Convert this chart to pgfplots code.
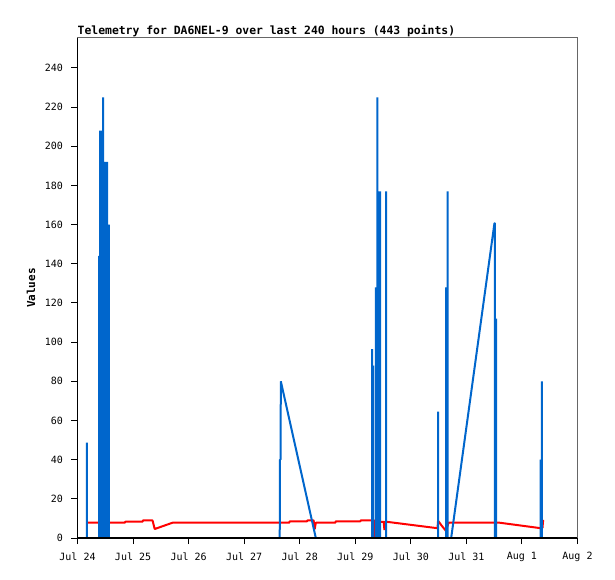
\documentclass[border=0pt]{standalone}
\usepackage{pgfplots}
\pgfplotsset{compat=1.18}
\usepackage{fontspec}
\setmainfont{DejaVu Sans Mono}
\definecolor{bl}{HTML}{0066CC}
\definecolor{rd}{HTML}{FF0000}
\definecolor{fr}{HTML}{666666}
\begin{document}
\begin{tikzpicture}[x=1pt,y=1pt]
\path[use as bounding box] (-77.5,-41) rectangle (537.5,538);
\begin{axis}[at={(0,0)}, anchor=south west, scale only axis, width=500pt, height=500pt,
  xmin=0,xmax=9,ymin=0,ymax=255.3, axis lines=box,
  axis line style={draw=fr, line width=1pt}, xtick=\empty, ytick=\empty]
\end{axis}
\begin{axis}[at={(0,0)}, anchor=south west, scale only axis, width=500pt, height=500pt,
  xmin=0, xmax=9, ymin=0, ymax=255.3,
  axis x line*=bottom, axis y line*=left,
  x axis line style={black, line width=2.5pt},
  y axis line style={black, line width=1pt},
  axis on top,
  tick align=outside, major tick length=6pt,
  every tick/.style={black, line width=1pt},
  xtick={0,1,...,9},
  xticklabels={Jul 24,Jul 25,Jul 26,Jul 27,Jul 28,Jul 29,Jul 30,Jul 31,Aug 1,Aug 2},
  ytick={0,20,...,240},
  tick label style={font=\fontsize{10}{12}\selectfont},
  xticklabel style={yshift=-5pt},
  yticklabel style={xshift=-5pt},
  /pgf/number format/assume math mode=true,
  title={Telemetry for DA6NEL-9 over last 240 hours (443 points)},
  title style={at={(rel axis cs:0,1)}, anchor=base west, yshift=-3pt, inner sep=0pt,
    font=\bfseries\fontsize{11.4}{13}\selectfont},
  ylabel={Values},
  every axis y label/.style={at={(rel axis cs:-0.093,0.5)}, rotate=90, anchor=center,
    font=\bfseries\fontsize{11}{13}\selectfont},
  line join=bevel,
]
\addplot[rd, line width=2pt] coordinates {
(0.16,7.8)(0.85,7.8)(0.86,8.3)(1.17,8.3)(1.18,9.0)(1.35,9.0)(1.39,4.6)(1.71,7.8)
(3.81,7.8)(3.82,8.5)(4.13,8.5)(4.14,9.0)(4.25,9.0)(4.27,4.5)(4.29,7.8)
(4.64,7.8)(4.65,8.5)(5.09,8.5)(5.10,9.0)(5.34,9.0)(5.345,0)(5.35,8.0)
(5.51,8.3)(5.525,4.1)(5.535,8.3)(5.56,8.3)(6.48,5.0)
(6.49,8.8)(6.55,6.5)(6.63,3.7)(6.68,7.8)(7.60,7.8)(8.34,5.0)(8.37,5.2)(8.38,8.8)(8.40,8.8)
};
\addplot[bl, line width=2pt] coordinates {
(0.165,0)(0.169,0)(0.169,48.7)(0.169,0)
(0.391,0)(0.391,144)(0.391,0)
(0.409,0)(0.409,208)(0.409,0)
(0.427,0)(0.427,208)(0.427,0)
(0.445,0)(0.445,192)(0.445,0)
(0.463,0)(0.463,225)(0.463,0)
(0.481,0)(0.481,192)(0.481,0)
(0.499,0)(0.499,192)(0.499,0)
(0.517,0)(0.517,192)(0.517,0)
(0.535,0)(0.535,192)(0.535,0)
(0.553,0)(0.553,160)(0.553,0)
(0.565,0)(0.565,160)(0.565,0)
(3.640,0)(3.645,40)(3.655,40)(3.660,80)(4.29,0)
(5.303,0)(5.303,96.5)(5.303,0)
(5.320,0)(5.320,88)(5.320,0)
(5.371,0)(5.371,128)(5.371,0)
(5.398,0)(5.398,225)(5.398,0)
(5.425,0)(5.425,177)(5.425,0)
(5.447,0)(5.447,177)(5.447,0)
(5.556,0)(5.556,177)(5.556,0)
(6.491,0)(6.491,64.5)(6.491,0)
(6.634,0)(6.634,128)(6.634,0)
(6.664,0)(6.664,177)(6.664,0)
(6.726,0)(7.505,160.7)(7.515,160.7)(7.515,0)
(7.535,0)(7.535,112)(7.535,0)
(8.335,0)(8.335,40)(8.335,0)
(8.360,0)(8.360,80)(8.360,0)(8.37,0)
};
\end{axis}
\end{tikzpicture}
\end{document}
